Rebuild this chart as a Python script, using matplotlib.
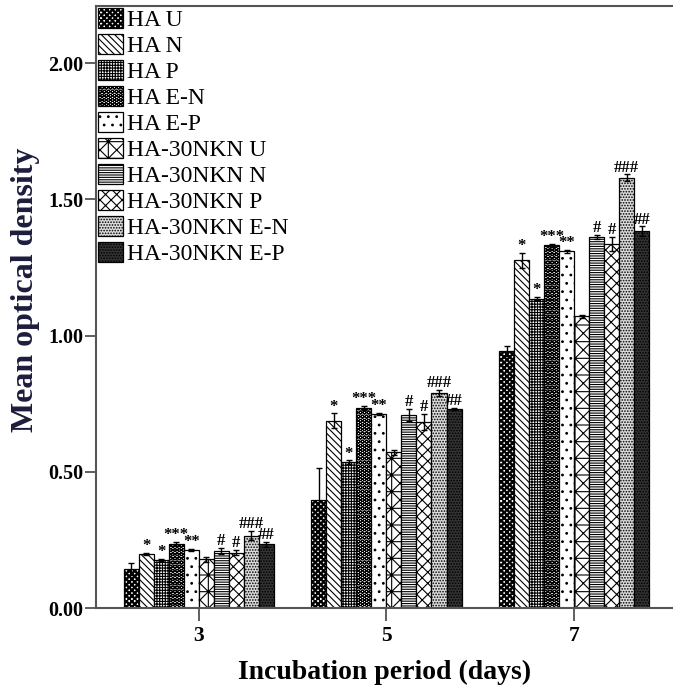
#!/usr/bin/env python3
"""plot.py - mean optical density of HA / HA-30NKN samples vs incubation period."""

import warnings

import numpy as np
import matplotlib

matplotlib.use("Agg")
import matplotlib.pyplot as plt
from matplotlib import hatch as mhatch
from matplotlib.path import Path

DAYS = ["3", "5", "7"]
GROUPS = ["HA U", "HA N", "HA P", "HA E-N", "HA E-P",
          "HA-30NKN U", "HA-30NKN N", "HA-30NKN P", "HA-30NKN E-N", "HA-30NKN E-P"]

# mean OD for each group, one list per incubation day
day3_mean = [0.142, 0.198, 0.176, 0.235, 0.213, 0.179, 0.210, 0.203, 0.266, 0.234]
day5_mean = [0.395, 0.688, 0.536, 0.734, 0.713, 0.571, 0.710, 0.684, 0.789, 0.732]
day7_mean = [0.942, 1.276, 1.136, 1.331, 1.310, 1.071, 1.363, 1.337, 1.580, 1.383]

# error bar half-heights
day3_err = [0.022, 0.005, 0.005, 0.007, 0.005, 0.010, 0.012, 0.010, 0.018, 0.010]
day5_err = [0.118, 0.027, 0.006, 0.008, 0.004, 0.008, 0.022, 0.030, 0.012, 0.004]
day7_err = [0.018, 0.027, 0.006, 0.007, 0.005, 0.006, 0.008, 0.026, 0.012, 0.018]

# significance marks, same for every day
SIG = ["", "*", "*", "***", "**", "", "#", "#", "###", "##"]

YTICKS = [0.0, 0.5, 1.0, 1.5, 2.0]


class CheckerHatch(mhatch.HatchPatternBase):
    """Filled checkerboard hatch, one 'c' per 6 rows (no built-in equivalent)."""

    def __init__(self, hatch, density):
        self.num_rows = hatch.count("c") * density
        self.num_vertices = (self.num_rows ** 2 // 2) * 5

    def set_vertices_and_codes(self, vertices, codes):
        step = 1.0 / self.num_rows
        square = np.array([[0, 0], [1, 0], [1, 1], [0, 1], [0, 0]]) * step
        parts = [square + [i * step, j * step]
                 for i in range(self.num_rows) for j in range(self.num_rows)
                 if (i + j) % 2 == 0]
        vertices[:] = np.concatenate(parts)
        codes[:] = np.tile([Path.MOVETO, Path.LINETO, Path.LINETO,
                            Path.LINETO, Path.CLOSEPOLY], len(parts))


mhatch._hatch_types.append(CheckerHatch)
warnings.filterwarnings("ignore", message="hatch must consist")

# (hatch, facecolor) per group
STYLES = [
    ("cccccc", "white"),
    ("\\\\\\\\\\", "white"),
    ("++++++", "white"),
    ("OOOO", "white"),
    ("..", "white"),
    ("xx+", "white"),
    ("-------", "white"),
    ("xxx", "white"),
    ("......", "#dcdcdc"),
    ("......", "#333333"),
]

plt.rcParams["font.family"] = ["Liberation Serif", "DejaVu Serif"]
plt.rcParams["hatch.linewidth"] = 0.8

fig = plt.figure(figsize=(6.73, 6.94), dpi=100)
ax = fig.add_axes([0.1426, 0.1239, 0.8574, 0.8675])

means = np.array([day3_mean, day5_mean, day7_mean])
errs = np.array([day3_err, day5_err, day7_err])
x = np.arange(len(DAYS))
width = 0.08

for i, name in enumerate(GROUPS):
    hatch, face = STYLES[i]
    xpos = x + (i - 4.5) * width
    ax.bar(xpos, means[:, i], width, yerr=errs[:, i], color=face, edgecolor="black",
           linewidth=0.9, hatch=hatch, label=name,
           error_kw=dict(ecolor="black", elinewidth=1.0, capsize=2.5, capthick=1.0))
    if SIG[i]:
        for xp, m, e in zip(xpos, means[:, i], errs[:, i]):
            ax.annotate(SIG[i], (xp, m + e), xytext=(0, -1), textcoords="offset points",
                        ha="center", va="bottom", fontsize=12, fontweight="bold")

ax.set_xlim(-0.548, 2.527)
ax.set_ylim(0, 2.21)
ax.set_xticks(x)
ax.set_xticklabels(DAYS)
ax.set_yticks(YTICKS)
ax.set_yticklabels([f"{v:.2f}" for v in YTICKS])
ax.tick_params(axis="y", length=8, width=1.2, color="#444444", labelsize=14.5, pad=1)
ax.tick_params(axis="x", length=9, width=1.2, color="#444444", labelsize=15.5, pad=4)
for lab in ax.get_xticklabels() + ax.get_yticklabels():
    lab.set_fontweight("bold")

for side in ("left", "top", "bottom"):
    ax.spines[side].set_color("#555555")
    ax.spines[side].set_linewidth(1.5)
ax.spines["right"].set_visible(False)

ax.set_ylabel("Mean optical density", fontsize=23, fontweight="bold", color="#1c1c3c")
ax.yaxis.set_label_coords(-0.097, 0.528)
ax.set_xlabel("Incubation period (days)", fontsize=20, fontweight="bold", labelpad=10)

ax.legend(loc="upper left", bbox_to_anchor=(0, 1), borderaxespad=0, frameon=False,
          fontsize=17, handlelength=1.06, handleheight=0.93, handletextpad=0.15,
          labelspacing=0.12, borderpad=0.1)

fig.savefig("out.png", dpi=100)
